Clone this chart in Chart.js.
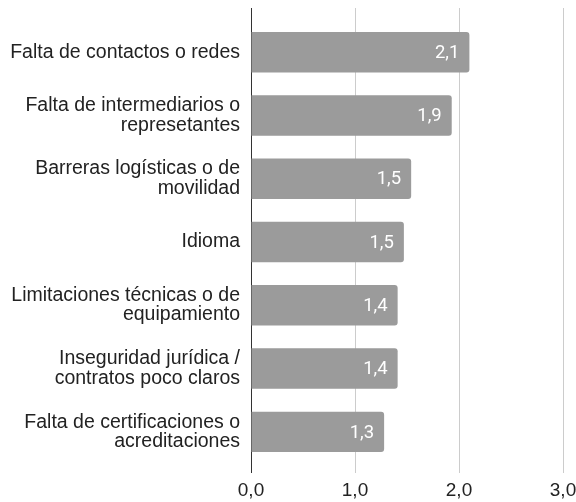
<!DOCTYPE html>
<html>
<head>
<meta charset="utf-8">
<script src="https://cdn.jsdelivr.net/npm/chart.js@4"></script>
<style>
    html, body { margin: 0; padding: 0; background: #fff; }
    #wrap { width: 576px; height: 502px; }
</style>
</head>
<body>
<div id="wrap"><canvas id="chart" width="576" height="502"></canvas></div>
<script>
// Datos
const categories = [
    ['Falta de contactos o redes'],
    ['Falta de intermediarios o', 'represetantes'],
    ['Barreras logísticas o de', 'movilidad'],
    ['Idioma'],
    ['Limitaciones técnicas o de', 'equipamiento'],
    ['Inseguridad jurídica /', 'contratos poco claros'],
    ['Falta de certificaciones o', 'acreditaciones']
];
const values = [2.1, 1.93, 1.54, 1.47, 1.41, 1.41, 1.28];
const xTicks = [0, 1, 2, 3];

function fmt(v) {
    return v.toFixed(1).replace('.', ',');
}

// Etiquetas de valor dentro de las barras
const valueLabels = {
    id: 'valueLabels',
    afterDatasetsDraw(chart) {
        const ctx = chart.ctx;
        const meta = chart.getDatasetMeta(0);
        ctx.save();
        ctx.fillStyle = '#ffffff';
        ctx.font = '18.5px Roboto';
        ctx.textAlign = 'right';
        ctx.textBaseline = 'middle';
        meta.data.forEach((bar, i) => {
            ctx.fillText(fmt(values[i]), bar.x - 10, bar.y + 1);
        });
        ctx.restore();
    }
};

new Chart(document.getElementById('chart'), {
    type: 'bar',
    data: {
        datasets: [{
            data: values.map((v, i) => ({ x: v, y: i })),
            backgroundColor: '#9b9b9b',
            borderRadius: 3,
            barPercentage: 0.64,
            categoryPercentage: 1
        }]
    },
    options: {
        indexAxis: 'y',
        responsive: false,
        animation: false,
        layout: {
            padding: { top: 8, bottom: 0, left: 0, right: 0 }
        },
        scales: {
            x: {
                type: 'linear',
                min: 0,
                max: 3,
                afterBuildTicks: function (scale) {
                    scale.ticks = xTicks.map(v => ({ value: v }));
                },
                afterFit: function (scale) {
                    scale.height = 29;
                    scale.paddingLeft = 0;
                    scale.paddingRight = 13;
                },
                ticks: {
                    padding: 6,
                    color: '#222',
                    font: { family: 'Liberation Sans', size: 19 },
                    callback: function (value) {
                        return fmt(value);
                    }
                },
                grid: {
                    drawTicks: false,
                    color: function (ctx) {
                        return ctx.tick && ctx.tick.value === 0 ? '#333' : '#cccccc';
                    }
                },
                border: { display: false }
            },
            y: {
                type: 'linear',
                reverse: true,
                offset: false,
                min: -0.70,
                max: 6.65,
                afterBuildTicks: function (scale) {
                    scale.ticks = categories.map((_, i) => ({ value: i }));
                },
                afterFit: function (scale) {
                    scale.width = 251;
                    scale.paddingTop = 0;
                    scale.paddingBottom = 0;
                },
                ticks: {
                    padding: 11,
                    color: '#222',
                    font: { family: 'Liberation Sans', size: 19.5, lineHeight: 1.0 },
                    callback: function (value) {
                        return categories[value];
                    }
                },
                grid: { display: false, drawTicks: false, offset: false },
                border: { display: false }
            }
        },
        plugins: {
            legend: { display: false },
            tooltip: { enabled: false }
        }
    },
    plugins: [valueLabels]
});
</script>
</body>
</html>
